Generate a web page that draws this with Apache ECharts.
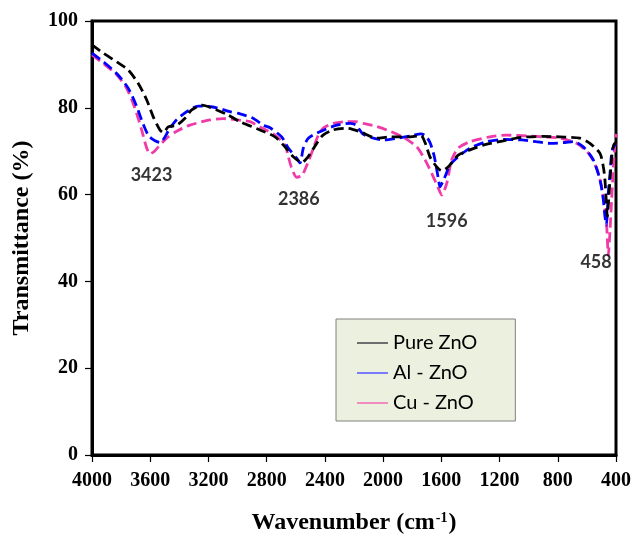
<!DOCTYPE html>
<html>
<head>
<meta charset="utf-8">
<script src="https://cdn.jsdelivr.net/npm/echarts@6/dist/echarts.min.js"></script>
<style>
html,body{margin:0;padding:0;background:#fff;}
#c{width:642px;height:540px;}
</style>
</head>
<body>
<div id="c"></div>
<script>
// ---- data ----
const seriesNames = ['Pure ZnO', 'Al - ZnO', 'Cu - ZnO'];

const pureWn = [4000,3922,3830,3751,3682,3624,3579,3533,3510,3476,3418,3361,3315,3246,3143,3064,2983,2846,2743,2674,2617,2559,2516,2456,2413,2344,2250,2159,2044,1953,1815,1740,1712,1678,1632,1598,1552,1484,1403,1312,1174,1050,900,785,648,579,510,487,476,466,460,452,440,428,415,400];
const pureT  = [94.5,92.6,90.6,88.7,85.6,81.8,77.9,74.9,74.3,75.6,76.0,77.6,79.5,80.6,79.5,78.3,76.8,74.9,73.3,71.0,68.7,67.4,68.7,71.8,73.7,74.9,75.3,74.5,73.0,73.3,73.3,73.6,72.0,68.7,66.4,65.5,66.4,69.1,70.3,71.4,72.4,73.2,73.4,73.3,73.0,71.8,69.5,66.4,63.4,58.0,55.0,58.0,64.0,69.0,71.5,72.0];

const alWn = [4000,3922,3830,3751,3693,3648,3610,3567,3530,3500,3470,3420,3350,3270,3200,3143,3052,2983,2894,2823,2777,2697,2651,2594,2571,2548,2514,2434,2319,2228,2186,2140,2067,1990,1900,1800,1740,1710,1678,1650,1621,1609,1590,1575,1541,1484,1403,1289,1174,1050,950,850,750,693,625,556,510,487,476,466,453,441,430,418,400];
const alT  = [92.6,90.6,87.9,84.5,80.3,76.2,73.5,72.4,72.0,73.2,75.0,77.2,79.1,80.4,80.3,80.0,79.1,78.6,77.6,76.0,75.4,73.3,70.7,68.4,67.3,70.7,73.0,74.5,76.0,76.4,76.0,74.0,73.0,72.6,73.0,73.6,74.0,73.6,72.0,69.0,63.8,61.8,63.0,64.1,66.8,68.7,70.7,72.2,72.7,72.6,72.2,71.8,72.0,72.2,71.0,68.0,63.4,58.8,55.0,53.0,60.3,64.9,69.5,71.0,71.5];

const cuWn = [4000,3922,3830,3762,3705,3659,3625,3600,3570,3544,3487,3418,3327,3189,3098,3000,2915,2846,2743,2674,2651,2628,2594,2560,2548,2514,2479,2445,2411,2342,2250,2190,2136,2044,1975,1861,1769,1712,1666,1621,1598,1563,1529,1484,1403,1266,1151,1000,900,785,670,579,521,487,464,453,441,430,418,407,400];
const cuT  = [92.2,90.2,87.6,84.5,79.9,74.9,70.8,69.4,70.0,71.0,73.0,74.6,76.0,77.2,77.5,77.2,76.8,75.6,73.7,71.4,68.7,66.1,64.0,64.3,64.9,67.6,70.7,73.7,75.3,76.4,76.8,76.8,76.4,75.7,74.9,73.2,71.0,68.0,64.9,61.5,59.9,62.6,68.0,70.7,72.2,73.3,73.7,73.5,73.3,73.0,71.8,69.1,64.9,59.5,52.6,46.0,51.8,58.8,66.4,71.8,74.0];

const peakLabels = ['3423', '2386', '1596', '458'];
const peakLabelWn = [3591, 2579, 1563, 537];
const peakLabelT  = [64.5, 59.0, 53.8, 44.5];

const xTicks = [4000,3600,3200,2800,2400,2000,1600,1200,800,400];
const yTicks = [0,20,40,60,80,100];

// ---- build ----
function pairs(xs, ys){ return xs.map((x,i)=>[x, ys[i]]); }
const colors = ['#000000', '#0000ff', '#f03aa8'];
const legendColors = ['#6e6e6e', '#7a7aff', '#f08cc0'];
const serif = 'Liberation Serif, Times New Roman, serif';

const lineData = [pairs(pureWn, pureT), pairs(alWn, alT), pairs(cuWn, cuT)];

const series = lineData.map((d, i) => ({
  name: seriesNames[i],
  type: 'line',
  data: d,
  showSymbol: false,
  symbol: 'none',
  smooth: 0.25,
  lineStyle: { color: colors[i], width: 2.8, type: [10, 5] },
  itemStyle: { color: colors[i] },
  z: 3 - i
}));

series.push({
  name: 'peaks',
  type: 'scatter',
  symbolSize: 0,
  silent: true,
  data: peakLabels.map((t, i) => [peakLabelWn[i], peakLabelT[i], t]),
  label: {
    show: true,
    position: 'inside',
    formatter: p => p.value[2],
    fontFamily: 'Lato, sans-serif',
    fontWeight: 'bold',
    fontSize: 18,
    color: '#000'
  }
});

const chart = echarts.init(document.getElementById('c'), null, { renderer: 'canvas' });
chart.setOption({
  animation: false,
  backgroundColor: '#ffffff',
  grid: { left: 92, right: 26, top: 21, bottom: 85, show: true, borderColor: '#000', borderWidth: 3, backgroundColor: '#fff' },
  legend: {
    orient: 'vertical',
    left: 336,
    top: 319,
    backgroundColor: '#ebf1de',
    borderColor: '#808080',
    borderWidth: 1,
    borderRadius: 0,
    padding: [14, 38, 8, 21],
    itemGap: 10,
    itemWidth: 31,
    itemHeight: 2,
    icon: 'rect',
    textStyle: { fontFamily: 'Lato, sans-serif', fontSize: 20, color: '#000' },
    data: seriesNames.map((n, i) => ({ name: n, itemStyle: { color: legendColors[i] } }))
  },
  xAxis: {
    type: 'value',
    min: 400,
    max: 4000,
    interval: 400,
    inverse: true,
    axisLine: { show: true, lineStyle: { color: '#000', width: 3 } },
    axisTick: { show: true, inside: false, length: 7, lineStyle: { color: '#000', width: 1.2 } },
    splitLine: { show: false },
    axisLabel: {
      margin: 16,
      fontFamily: serif, fontWeight: 'bold', fontSize: 20, color: '#000',
      formatter: v => (xTicks.indexOf(v) >= 0 ? String(v) : '')
    },
    name: '{a|Wavenumber (cm}{s|-1}{a|)}',
    nameLocation: 'middle',
    nameGap: 56,
    nameTextStyle: {
      rich: {
        a: { fontFamily: serif, fontWeight: 'bold', fontSize: 24, color: '#000' },
        s: { fontFamily: serif, fontWeight: 'bold', fontSize: 14, color: '#000', verticalAlign: 'top', padding: [0, 1, 0, 1] }
      }
    }
  },
  yAxis: {
    type: 'value',
    min: 0,
    max: 100,
    interval: 20,
    axisLine: { show: true, lineStyle: { color: '#000', width: 3 } },
    axisTick: { show: true, inside: false, length: 7, lineStyle: { color: '#000', width: 1.2 } },
    splitLine: { show: false },
    axisLabel: {
      margin: 14,
      fontFamily: serif, fontWeight: 'bold', fontSize: 20, color: '#000',
      formatter: v => (yTicks.indexOf(v) >= 0 ? String(v) : '')
    },
    name: 'Transmittance (%)',
    nameLocation: 'middle',
    nameGap: 58,
    nameRotate: 90,
    nameTextStyle: { fontFamily: serif, fontWeight: 'bold', fontSize: 24, color: '#000' }
  },
  series: series
});
</script>
</body>
</html>
